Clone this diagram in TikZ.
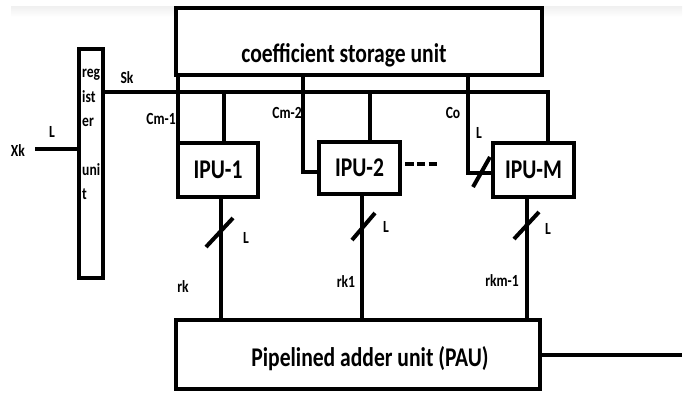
\documentclass[tikz,border=0pt]{standalone}
\usepackage{fontspec}
\setmainfont{Carlito}[FakeStretch=0.8]
\usetikzlibrary{calc}
\tikzset{unit/.style={draw,line width=4pt,inner sep=0pt,font=\bfseries\fontsize{27}{30}\selectfont},
  tag/.style={inner sep=0pt,font=\bfseries\fontsize{17}{20}\selectfont},
  wire/.style={line width=4pt}}

\begin{document}
\begin{tikzpicture}[x=1pt,y=-1pt,line join=miter]
\useasboundingbox (0,0) rectangle (691,392);
\shade[top color=black!6,bottom color=white] (11,6) rectangle (682,17);
% --- blocks
\node[unit,fill=white,minimum width=366,minimum height=67] (csu) at (359,41.5) {};
\node[tag,font=\bfseries\fontsize{27}{30}\selectfont,anchor=base] (csutext) at (344,62) {coefficient storage unit};
\node[unit,minimum width=24,minimum height=229] (reg) at (91,163.5) {};
\node[tag,anchor=north west,align=left,font=\bfseries\fontsize{17}{24.4}\selectfont] (regtext) at (82,69) {reg\\ist\\er\\[24.4pt]uni\\t};
\node[unit,minimum width=80,minimum height=54] (ipu1) at (218,170) {IPU-1};
\node[unit,minimum width=81,minimum height=52] (ipu2) at (359.5,168) {IPU-2};
\node[unit,minimum width=81,minimum height=54] (ipuM) at (533.5,170) {IPU-M};
\node[unit,minimum width=364,minimum height=69] (pau) at (358,354.5) {};
\node[tag,font=\bfseries\fontsize{27}{30}\selectfont,anchor=base] (pautext) at (370,366) {Pipelined adder unit (PAU)};
% --- input and Sk bus
\coordinate (xin) at (35,149); \coordinate (bus) at (548,92);
\draw[wire] (xin) -- (xin -| reg.west);
\draw[wire] (bus -| reg.east) -- (bus) -- (ipuM.north -| bus);
\draw[wire] ([xshift=6pt]ipu1.north) -- ([xshift=6pt]ipu1.north |- bus);
\draw[wire] ([xshift=10.5pt]ipu2.north) -- ([xshift=10.5pt]ipu2.north |- bus);
% --- coefficients
\draw[wire] ([xshift=2pt]ipu1.north west) -- ([xshift=2pt]ipu1.north west |- csu.south);
\draw[wire] (csu.south -| 303,0) |- ([yshift=-4pt]ipu2.west);
\draw[wire] (csu.south -| 468,0) |- ([yshift=-3pt]ipuM.west);
\draw[wire] (473,187) -- (490,157);
\draw[wire,dash pattern=on 8.5pt off 3.3pt] (405,164) -- (438,164);
% --- partial results to PAU
\draw[wire] ([xshift=3pt]ipu1.south) -- ([xshift=3pt]ipu1.south |- pau.north);
\draw[wire] ([xshift=2.5pt]ipu2.south) -- ([xshift=2.5pt]ipu2.south |- pau.north);
\draw[wire] ([xshift=-6.5pt]ipuM.south) -- ([xshift=-6.5pt]ipuM.south |- pau.north);
\draw[wire] (206,247) -- (233,218); \draw[wire] (352,240) -- (375,213); \draw[wire] (514,239) -- (539,212);
\coordinate (yout) at (682,354.5);
\draw[wire] (pau.east) -- (yout);
% --- labels
\node[tag] (xk) at (18,151) {Xk}; \node[tag] (lx) at (52,132) {L};
\node[tag] (sk) at (127,78) {Sk};
\node[tag] (cm1) at (161,119) {Cm-1}; \node[tag] (cm2) at (287,113) {Cm-2};
\node[tag] (co) at (453,113) {Co}; \node[tag] (lco) at (479,133) {L};
\node[tag] (l1) at (246,238) {L}; \node[tag] (rk) at (183,287) {rk};
\node[tag] (l2) at (386,227) {L}; \node[tag] (rk1) at (346,282) {rk1};
\node[tag] (l3) at (548,229) {L}; \node[tag] (rkm) at (502,281) {rkm-1};
\end{tikzpicture}
\end{document}
